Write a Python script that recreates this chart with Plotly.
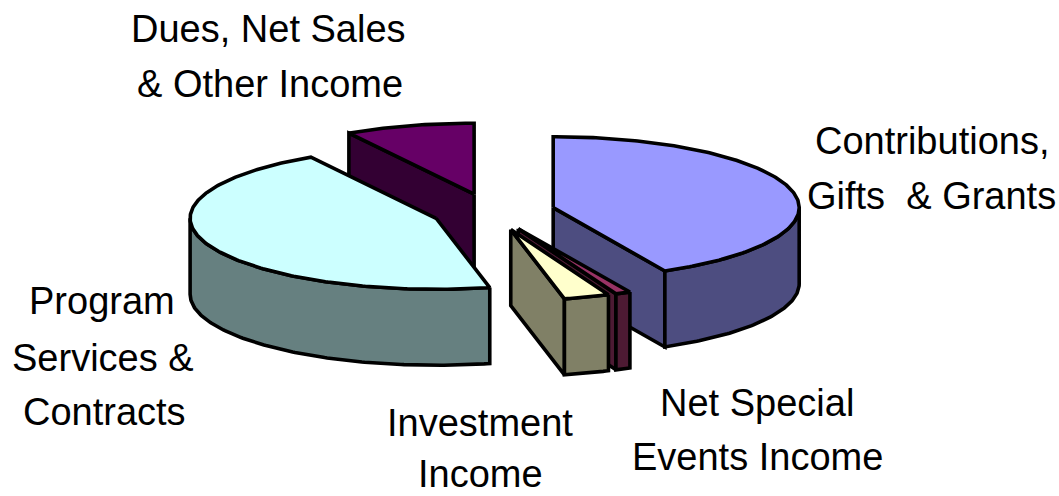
import math
import plotly.graph_objects as go

categories = ["Contributions, Gifts & Grants", "Net Special Events Income", "Investment Income",
              "Program Services & Contracts", "Dues, Net Sales & Other Income"]
shares = [42.5, 1.0, 3.0, 45.0, 8.5]
explode = [0.26, 0.26, 0.26, 0.24, 0.26]
top_colors = ["#9999FF", "#993366", "#FFFFCC", "#CCFFFF", "#660066"]
side_colors = ["#4D4D80", "#4D1A33", "#808066", "#668080", "#330033"]
paint_order = [4, 0, 3, 1, 2]

label_lines = ["Dues, Net Sales", "& Other Income", "Contributions,", "Gifts\u00a0\u00a0& Grants",
               "Program", "Services &", "Contracts", "Investment", "Income", "Net Special", "Events Income"]
label_x = [268, 270, 932, 931, 102, 103, 104, 480, 480, 757, 757]
label_y = [29, 84, 141, 196, 301, 358, 412, 423, 474, 403, 457]

CX, CY = 491, 212
RX, RY = 246, 71
DEPTH = 76
LINE = 3.6


def rim(cx, cy, a0, a1, dy=0):
    n = max(2, int(abs(a1 - a0) * 1.5))
    pts = []
    for i in range(n + 1):
        t = math.radians(a0 + (a1 - a0) * i / n)
        pts.append((cx + RX * math.sin(t), cy - RY * math.cos(t) + dy))
    return pts


fig = go.Figure()


def face(pts, color):
    pts = pts + [pts[0]]
    fig.add_trace(go.Scatter(x=[p[0] for p in pts], y=[p[1] for p in pts], mode="lines", fill="toself",
                             fillcolor=color, line=dict(color="black", width=LINE), hoverinfo="skip",
                             showlegend=False))


edges = []
acc = 0
for s in shares:
    edges.append((acc * 3.6, (acc + s) * 3.6))
    acc += s

for i in paint_order:
    a0, a1 = edges[i]
    mid = math.radians((a0 + a1) / 2)
    cx = CX + explode[i] * RX * math.sin(mid)
    cy = CY - explode[i] * RY * math.cos(mid)
    # cut walls facing the viewer
    for ang, visible in ((a0, math.sin(math.radians(a0)) < -1e-6), (a1, math.sin(math.radians(a1)) > 1e-6)):
        if visible:
            p = rim(cx, cy, ang, ang + 1)[0]
            face([(cx, cy), p, (p[0], p[1] + DEPTH), (cx, cy + DEPTH)], side_colors[i])
    # outer wall
    r0, r1 = max(a0, 90), min(a1, 270)
    if r1 > r0:
        face(rim(cx, cy, r0, r1) + rim(cx, cy, r1, r0, DEPTH), side_colors[i])
    # top
    face([(cx, cy)] + rim(cx, cy, a0, a1), top_colors[i])

annotations = [dict(x=x, y=y, text=t, showarrow=False, xanchor="center", yanchor="middle",
                    font=dict(family="Liberation Sans", size=38, color="black"))
               for t, x, y in zip(label_lines, label_x, label_y)]

fig.update_layout(width=1059, height=496, margin=dict(l=0, r=0, t=0, b=0), paper_bgcolor="white",
                  plot_bgcolor="white", showlegend=False, annotations=annotations,
                  xaxis=dict(range=[0, 1059], visible=False, fixedrange=True),
                  yaxis=dict(range=[496, 0], visible=False, fixedrange=True))
fig.write_html("out.html", config=dict(displayModeBar=False),
               post_script="document.body.style.margin='0';document.documentElement.style.overflow='hidden';")
